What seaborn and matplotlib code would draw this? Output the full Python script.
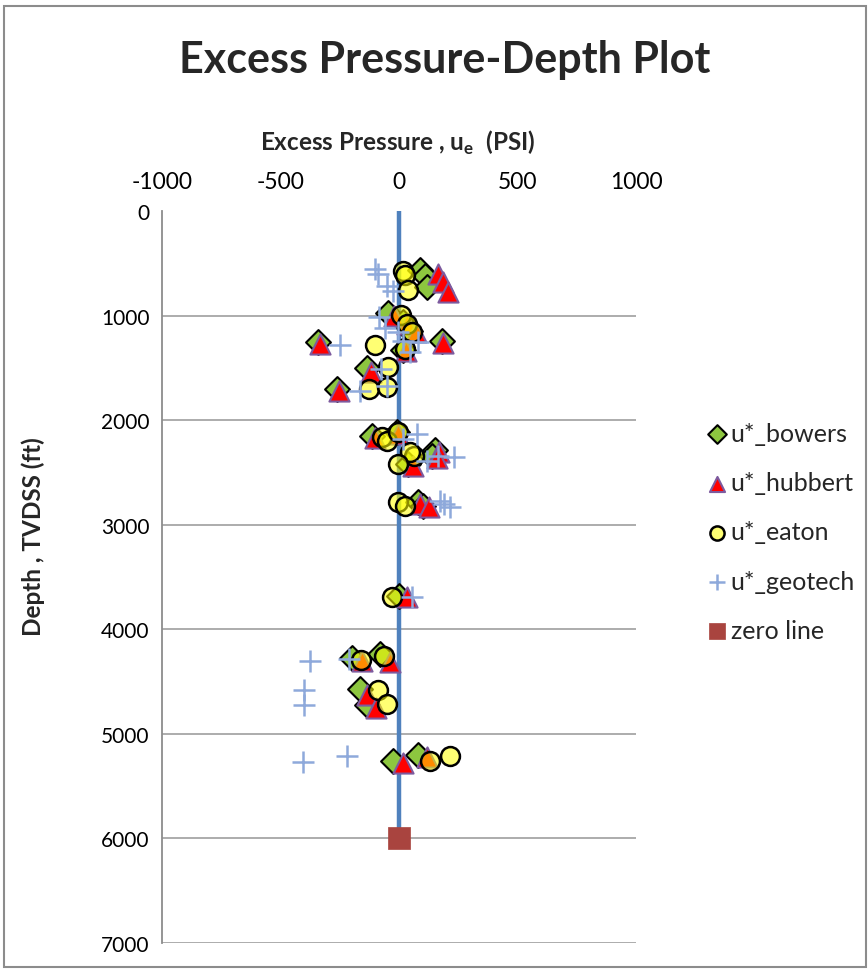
import matplotlib
matplotlib.use("Agg")
import matplotlib.pyplot as plt
import seaborn as sns
import pandas as pd
from matplotlib.patches import Rectangle

sns.set_style("white")
plt.rcParams['font.family'] = ['Lato', 'DejaVu Sans']

# ---------------- data ----------------
bowers_depth = [560, 620, 730, 980, 1060, 1150, 1250, 1240, 1330, 1500, 1700, 2150, 2110, 2290, 2340, 2420, 2780, 2820, 3680, 4270, 4240, 4570, 4720, 5260, 5200]
bowers_val = [90, 110, 120, -45, 15, 45, -340, 180, 15, -135, -260, -115, -10, 150, 140, 40, 80, 100, 0, -200, -80, -165, -135, -25, 80]

hubbert_depth = [600, 680, 770, 1000, 1080, 1160, 1270, 1260, 1340, 1540, 1720, 2170, 2130, 2300, 2360, 2440, 2800, 2830, 3690, 4300, 4310, 4630, 4750, 5280, 5220]
hubbert_val = [165, 185, 205, -20, 35, 70, -335, 185, 30, -120, -255, -100, -5, 170, 160, 60, 90, 125, 35, -155, -40, -135, -95, 15, 120]

eaton_depth = [570, 610, 760, 990, 1080, 1160, 1280, 1320, 1490, 1700, 1680, 2160, 2200, 2110, 2340, 2300, 2420, 2780, 2820, 3690, 4290, 4260, 4580, 4710, 5260, 5210]
eaton_val = [15, 25, 38, 10, 35, 55, -100, 25, -45, -125, -50, -70, -50, -5, 65, 45, -5, -5, 25, -30, -160, -65, -90, -50, 130, 215]

geotech_depth = [555, 600, 720, 765, 1010, 1120, 1160, 1280, 1240, 1250, 1350, 1510, 1670, 1720, 2180, 2130, 2390, 2340, 2350, 2770, 2830, 2800, 3690, 4300, 4280, 4580, 4720, 5270, 5210]
geotech_val = [-100, -90, -50, -25, -85, -60, -5, -250, 15, 80, 45, -75, -50, -165, 15, 75, 120, 165, 230, 175, 215, 190, 55, -375, -210, -400, -400, -405, -220]

zero_depth = [0, 6000]
zero_val = [0, 0]

x_ticks = [-1000, -500, 0, 500, 1000]
y_ticks = [0, 1000, 2000, 3000, 4000, 5000, 6000, 7000]

# ---------------- figure ----------------
W, H = 868, 970
fig = plt.figure(figsize=(W / 100, H / 100), dpi=100)
fig.patch.set_facecolor("white")
fig.patches.append(Rectangle((4 / W, 1 - 968 / H), 862 / W, 961 / H, transform=fig.transFigure,
                             fill=False, edgecolor="#8c8c8c", linewidth=1.5))

ax = fig.add_axes([162 / W, 1 - 944 / H, (636 - 162) / W, (944 - 212) / H])

# zero line (line + end marker)
sns.lineplot(x=zero_val, y=zero_depth, ax=ax, color="#4F81BD", linewidth=3.2,
             sort=False, estimator=None, zorder=2, legend=False)

sns.scatterplot(x=bowers_val, y=bowers_depth, ax=ax, marker="D", s=160, color="#8DC63F",
                edgecolor="black", linewidth=1.5, zorder=3, label="u*_bowers")
sns.scatterplot(x=hubbert_val, y=hubbert_depth, ax=ax, marker="^", s=210, color="#FF0000",
                edgecolor="#7D5A9E", linewidth=1.5, zorder=4, label="u*_hubbert")
sns.scatterplot(x=eaton_val, y=eaton_depth, ax=ax, marker="o", s=185, color=(1.0, 1.0, 0.0, 0.55),
                edgecolor="black", linewidth=1.8, zorder=5, label="u*_eaton")
sns.scatterplot(x=geotech_val, y=geotech_depth, ax=ax, marker="+", s=230, color="#8EA9DB",
                linewidth=1.8, zorder=6, label="u*_geotech")
sns.scatterplot(x=zero_val[1:], y=zero_depth[1:], ax=ax, marker="s", s=230, color="#A9443F",
                edgecolor="#A9443F", linewidth=0.5, zorder=7, label="zero line")

ax.set_xlim(-1000, 1000)
ax.set_ylim(7000, 0)
ax.set_xticks(x_ticks)
ax.set_xticklabels([str(v) for v in x_ticks])
ax.set_yticks(y_ticks)
ax.set_yticklabels([str(v) for v in y_ticks])
ax.xaxis.tick_top()
ax.xaxis.set_label_position("top")
ax.tick_params(axis="x", length=0, labelsize=16.5, pad=14, colors="black")
ax.tick_params(axis="y", length=6, width=1.2, color="#8c8c8c", labelsize=15, pad=3, labelcolor="black")

for s in ["top", "right", "bottom"]:
    ax.spines[s].set_visible(False)
ax.spines["left"].set_color("#8c8c8c")
ax.spines["left"].set_linewidth(1.3)

for yv in y_ticks[1:]:
    ax.axhline(yv, color="#a6a6a6", linewidth=1.3, zorder=1)

ax.set_xlabel("Excess Pressure , u$_\\mathregular{e}$  (PSI)", fontsize=17.5, fontweight="bold")
ax.xaxis.set_label_coords((398 - 162) / 474, (944 - 143) / 732)
ax.xaxis.label.set_va("center")
ax.set_ylabel("Depth , TVDSS (ft)", fontsize=17.5, fontweight="bold")
ax.yaxis.set_label_coords((33 - 162) / 474, (944 - 537) / 732)
ax.yaxis.label.set_va("center")

fig.text(445 / W, 1 - 60 / H, "Excess Pressure-Depth Plot", ha="center", va="center",
         fontsize=31, fontweight="bold")

handles, labels = ax.get_legend_handles_labels()
leg = ax.legend(handles, labels, loc="center left", bbox_to_anchor=(697 / W, 1 - 533 / H),
                bbox_transform=fig.transFigure, frameon=False, fontsize=18,
                labelspacing=1.05, handletextpad=0.15, handlelength=0.8, markerscale=0.75,
                borderaxespad=0)

fig.savefig("out.png", dpi=100)
